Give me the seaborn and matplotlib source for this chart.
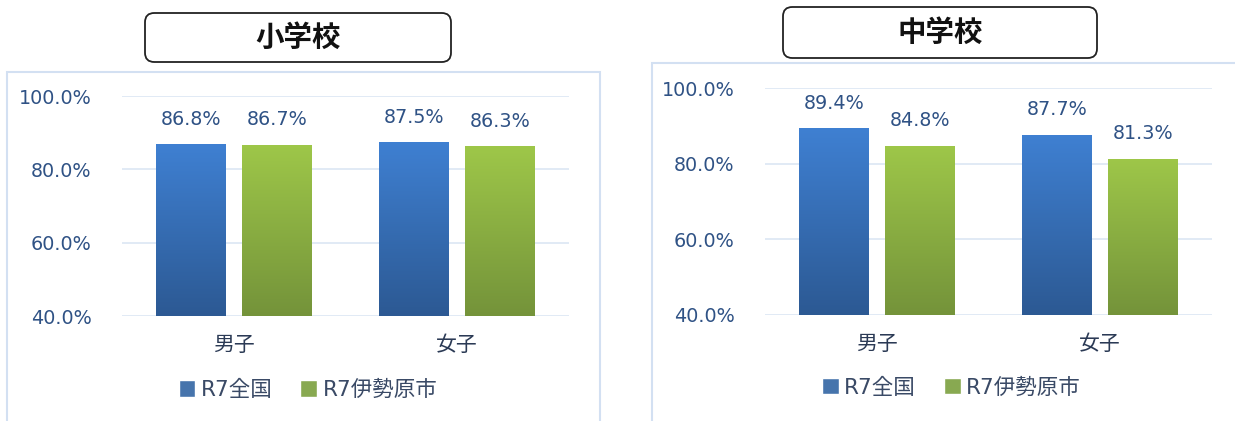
import numpy as np
import pandas as pd
import seaborn as sns
import matplotlib.pyplot as plt
from matplotlib.patches import FancyBboxPatch, Rectangle
from matplotlib.colors import LinearSegmentedColormap

# data
categories = ["男子", "女子"]
series = ["R7全国", "R7伊勢原市"]
elem_zenkoku = [86.8, 87.5]
elem_isehara = [86.7, 86.3]
jhs_zenkoku = [89.4, 87.7]
jhs_isehara = [84.8, 81.3]
panel_titles = ["小学校", "中学校"]
yticks = [40, 60, 80, 100]

sns.set_style("white")
plt.rcParams['font.family'] = ['DejaVu Sans', 'Noto Sans CJK JP']

W, H = 1235, 421
fig = plt.figure(figsize=(W / 100, H / 100), dpi=100)

def fx(px):
    return px / W

def fy(py):
    return 1 - py / H

blue_grad = LinearSegmentedColormap.from_list("b", ["#2c5993", "#3f80d2"])
green_grad = LinearSegmentedColormap.from_list("g", ["#74933a", "#9ec749"])
mid_cols = ["#3572bd", "#8cb842"]
tick_col = "#2f5285"
cat_col = "#2b3a55"


def panel(ax_box, frame_box, title_box, title, v1, v2, leg_xy):
    # light blue chart frame
    x0, y0, x1, y1 = frame_box
    fig.add_artist(Rectangle((fx(x0), fy(y1)), fx(x1 - x0), fy(y0) - fy(y1),
                             transform=fig.transFigure, fill=False,
                             edgecolor="#d3e0f2", lw=1.5))
    # title box
    x0, y0, x1, y1 = title_box
    fig.add_artist(FancyBboxPatch((fx(x0), fy(y1)), fx(x1 - x0), fy(y0) - fy(y1),
                                  boxstyle="round,pad=0,rounding_size=0.0075",
                                  transform=fig.transFigure, facecolor="white",
                                  edgecolor="#222222", lw=1.3,
                                  mutation_aspect=W / H))
    fig.text(fx((x0 + x1) / 2), fy((y0 + y1) / 2), title, ha="center", va="center",
             fontsize=20.5, fontweight="bold", family=['Noto Sans CJK JP'], color="#111111")

    l, t, r, b = ax_box
    ax = fig.add_axes([fx(l), fy(b), fx(r - l), fy(t) - fy(b)])
    df = pd.DataFrame({
        "cat": categories * 2,
        "series": [series[0]] * 2 + [series[1]] * 2,
        "val": list(v1) + list(v2),
    })
    sns.barplot(data=df, x="cat", y="val", hue="series", hue_order=series,
                palette=mid_cols, width=0.77, gap=0.19, ax=ax, zorder=3)
    ax.set_ylim(40, 100)
    ax.set_xlim(-0.5, 1.5)
    ax.set_yticks(yticks)
    ax.set_yticklabels([f"{v:.1f}%" for v in yticks])
    ax.yaxis.grid(True, color="#dce6f3", lw=1.2, zorder=0)
    ax.set_axisbelow(True)
    for s in ax.spines.values():
        s.set_visible(False)
    ax.tick_params(axis="y", length=0, pad=22, labelsize=13.8, labelcolor=tick_col)
    ax.tick_params(axis="x", length=0, pad=13, labelsize=15, labelcolor=cat_col)
    for lab in ax.get_xticklabels():
        lab.set_family(['Noto Sans CJK JP'])
    ax.set_xlabel("")
    ax.set_ylabel("")

    # gradient fill on the bars
    grad = np.linspace(0, 1, 256).reshape(-1, 1)
    for cont, cmap in zip(ax.containers, [blue_grad, green_grad]):
        for p in cont.patches:
            bx, by = p.get_x(), p.get_y()
            bw, bh = p.get_width(), p.get_height()
            p.set_edgecolor("none")
            im = ax.imshow(grad, cmap=cmap, origin="lower", aspect="auto",
                           extent=[bx, bx + bw, 40, by + bh], zorder=4)
            im.set_clip_path(p)
        ax.bar_label(cont, fmt="%.1f%%", padding=11, fontsize=13.8, color=tick_col,
                     zorder=5)
    ax.set_xlim(-0.5, 1.5)
    ax.set_ylim(40, 100)

    ax.legend(loc="center", bbox_to_anchor=leg_xy, ncol=2, frameon=False,
              handlelength=0.78, handleheight=0.78, handletextpad=0.25,
              columnspacing=1.3, prop={"family": ['DejaVu Sans', 'Noto Sans CJK JP'], "size": 15.5},
              labelcolor="#3a4a66")
    return ax


panel((122, 96, 569, 316), (7, 72, 600, 430), (145, 13, 451, 62),
      panel_titles[0], elem_zenkoku, elem_isehara, (0.416, -0.336))
panel((765, 88, 1212, 315), (652, 63, 1245, 430), (783, 7, 1097, 58),
      panel_titles[1], jhs_zenkoku, jhs_isehara, (0.417, -0.32))

plt.savefig("out.png", dpi=100)
